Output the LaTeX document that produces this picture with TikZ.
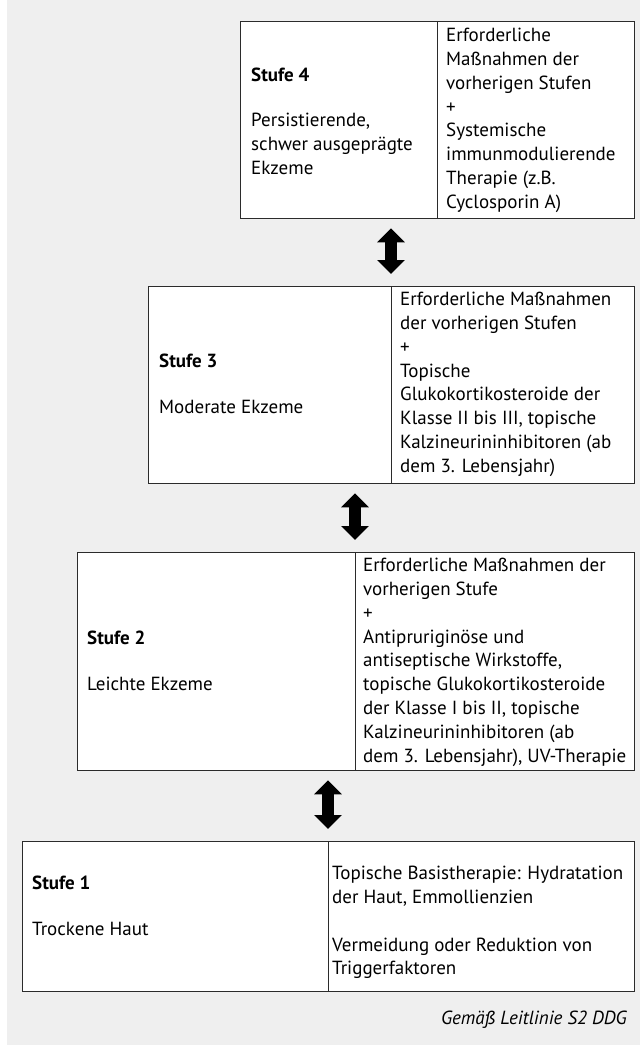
\documentclass[tikz,border=0pt]{standalone}
\usepackage{fontspec}
\setmainfont{PT Sans}
\usetikzlibrary{arrows.meta}
\definecolor{bg}{HTML}{EFEFEF}
\definecolor{frame}{HTML}{2B2B2B}
\tikzset{
  cell/.style={draw=frame, line width=1.3pt, fill=white, inner sep=0pt, anchor=north west},
  txt/.style={inner sep=0pt, align=left, font=\fontsize{19}{23.8}\selectfont},
  updown/.style={line width=12pt, {Triangle[width=27pt,length=14pt]}-{Triangle[width=27pt,length=14pt]}, shorten <=9pt, shorten >=12pt}
}
\begin{document}
\begin{tikzpicture}[x=1pt,y=-1pt]
\useasboundingbox (0,0) rectangle (640,1045);
\fill[bg] (7,0) rectangle (640,1045);

% Stufe 4
\node[cell, minimum width=197pt, minimum height=197pt] (b4l) at (240,21) {};
\node[cell, minimum width=197pt, minimum height=197pt] (b4r) at (437,21) {};
% Stufe 3
\node[cell, minimum width=243pt, minimum height=197pt] (b3l) at (148,286) {};
\node[cell, minimum width=243pt, minimum height=197pt] (b3r) at (391,286) {};
% Stufe 2
\node[cell, minimum width=278pt, minimum height=218pt] (b2l) at (77,552) {};
\node[cell, minimum width=279pt, minimum height=218pt] (b2r) at (355,552) {};
% Stufe 1
\node[cell, minimum width=306pt, minimum height=150pt] (b1l) at (22,841) {};
\node[cell, minimum width=306pt, minimum height=150pt] (b1r) at (328,841) {};

% texts
\node[txt, anchor=west] (t4l) at ([xshift=11pt,yshift=-1pt]b4l.west) {\textbf{Stufe 4}\\[21pt]Persistierende,\\schwer ausgeprägte\\Ekzeme};
\node[txt, anchor=north west] (t4r) at ([xshift=9pt,yshift=-7pt]b4r.north west) {Erforderliche\\Maßnahmen der\\vorherigen Stufen\\+\\Systemische\\immunmodulierende\\Therapie (z.B.\\Cyclosporin A)};

\node[txt, anchor=west] (t3l) at ([xshift=11pt,yshift=1pt]b3l.west) {\textbf{Stufe 3}\\[22pt]Moderate Ekzeme};
\node[txt, anchor=north west] (t3r) at ([xshift=9pt,yshift=-6pt]b3r.north west) {Erforderliche Maßnahmen\\der vorherigen Stufen\\+\\Topische\\Glukokortikosteroide der\\Klasse II bis III, topische\\Kalzineurininhibitoren (ab\\dem 3. Lebensjahr)};

\node[txt, anchor=west] (t2l) at ([xshift=10pt,yshift=1pt]b2l.west) {\textbf{Stufe 2}\\[22pt]Leichte Ekzeme};
\node[txt, anchor=north west] (t2r) at ([xshift=8pt,yshift=-6pt]b2r.north west) {Erforderliche Maßnahmen der\\vorherigen Stufe\\+\\Antipruriginöse und\\antiseptische Wirkstoffe,\\topische Glukokortikosteroide\\der Klasse I bis II, topische\\Kalzineurininhibitoren (ab\\dem 3. Lebensjahr), UV-Therapie};

\node[txt, anchor=west] (t1l) at ([xshift=10pt,yshift=11pt]b1l.west) {\textbf{Stufe 1}\\[22pt]Trockene Haut};
\node[txt, anchor=west] (t1r) at ([xshift=4pt,yshift=-6pt]b1r.west) {Topische Basistherapie: Hydratation\\der Haut, Emmollienzien\\[23.8pt]Vermeidung oder Reduktion von\\Triggerfaktoren};

% arrows
\draw[updown] (b4l.south -| b3r.north west) -- (b3r.north west);
\draw[updown] (b3l.south -| b2r.north west) -- (b2r.north west);
\draw[updown] (b2l.south -| b1r.north west) -- (b1r.north west);

% caption
\node[font=\fontsize{19}{23}\selectfont\itshape, anchor=east, inner sep=0pt] (cap) at (627,1020) {Gemäß Leitlinie S2 DDG};
\end{tikzpicture}
\end{document}
